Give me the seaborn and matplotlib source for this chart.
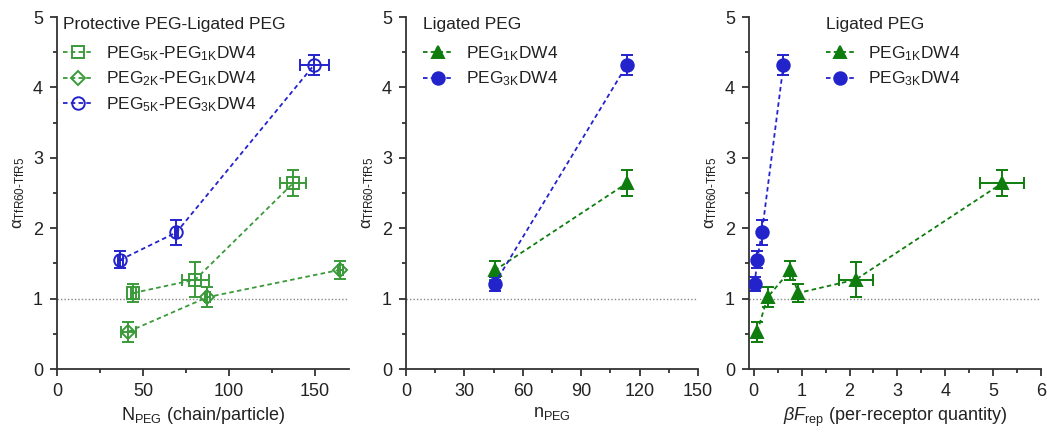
import numpy as np
import pandas as pd
import matplotlib
matplotlib.use("Agg")
import matplotlib.pyplot as plt
import seaborn as sns
from matplotlib.ticker import MultipleLocator

# ---------------- data ----------------
# Panel 1: N_PEG (chain/particle)
p5k1k_x = [44.5, 80.5, 137.5]
p5k1k_y = [1.08, 1.27, 2.64]
p5k1k_xerr = [1.5, 8.0, 7.5]
p5k1k_yerr = [0.13, 0.25, 0.18]

p2k1k_x = [41.5, 87.5, 165.0]
p2k1k_y = [0.53, 1.02, 1.41]
p2k1k_xerr = [4.5, 1.5, 1.5]
p2k1k_yerr = [0.14, 0.14, 0.13]

p5k3k_x = [36.8, 69.5, 149.7]
p5k3k_y = [1.55, 1.94, 4.32]
p5k3k_xerr = [1.5, 1.0, 8.5]
p5k3k_yerr = [0.12, 0.18, 0.14]

# Panel 2: n_PEG
n1k_x = [45.5, 113.5]
n1k_y = [1.40, 2.64]
n1k_yerr = [0.13, 0.18]
n3k_x = [45.5, 113.5]
n3k_y = [1.21, 4.32]
n3k_yerr = [0.10, 0.14]

# Panel 3: beta F_rep
f1k_x = [0.07, 0.29, 0.76, 0.93, 2.13, 5.19]
f1k_y = [0.53, 1.02, 1.40, 1.08, 1.27, 2.64]
f1k_xerr = [0.0, 0.0, 0.0, 0.0, 0.36, 0.46]
f1k_yerr = [0.14, 0.14, 0.13, 0.13, 0.25, 0.18]
f3k_x = [0.02, 0.07, 0.17, 0.62]
f3k_y = [1.21, 1.55, 1.94, 4.32]
f3k_yerr = [0.10, 0.12, 0.18, 0.14]

GREEN_L = "#3a9a3a"
GREEN_D = "#0e7d0e"
BLUE = "#2323cc"
AXC = "#333333"

sns.set_theme(style="ticks")
plt.rcParams['font.family'] = ['Liberation Sans', 'DejaVu Sans']
plt.rcParams['mathtext.fontset'] = 'custom'
plt.rcParams['mathtext.rm'] = 'Liberation Sans'
plt.rcParams['mathtext.it'] = 'Liberation Sans:italic'
plt.rcParams['mathtext.bf'] = 'Liberation Sans:bold'

fig = plt.figure(figsize=(10.47, 4.32), dpi=100)
W, H = 1047, 432
def add_ax(left, right, top=17, bottom=369):
    return fig.add_axes([left / W, (H - bottom) / H, (right - left) / W, (bottom - top) / H])

ax1 = add_ax(57, 349)
ax2 = add_ax(406, 698)
ax3 = add_ax(749, 1041)

def series(ax, x, y, xerr, yerr, color, marker, filled, label, ms):
    df = pd.DataFrame({"x": x, "y": y})
    sns.lineplot(data=df, x="x", y="y", ax=ax, sort=False, color=color,
                 linestyle=(0, (2.5, 1.8)), linewidth=1.3, marker=marker,
                 markersize=ms, markerfacecolor=(color if filled else "none"),
                 markeredgecolor=color, markeredgewidth=1.4, label=label, zorder=3)
    ax.errorbar(x, y, xerr=xerr, yerr=yerr, fmt="none", ecolor=color,
                elinewidth=1.4, capsize=4.5, capthick=1.4, zorder=2)

def lab(a, b):
    return f"PEG$_\\mathregular{{{a}}}$-PEG$_\\mathregular{{{b}}}$DW4"

series(ax1, p5k1k_x, p5k1k_y, p5k1k_xerr, p5k1k_yerr, GREEN_L, "s", False, lab("5K", "1K"), 9)
series(ax1, p2k1k_x, p2k1k_y, p2k1k_xerr, p2k1k_yerr, GREEN_L, "D", False, lab("2K", "1K"), 7)
series(ax1, p5k3k_x, p5k3k_y, p5k3k_xerr, p5k3k_yerr, BLUE, "o", False, lab("5K", "3K"), 9)

series(ax2, n1k_x, n1k_y, None, n1k_yerr, GREEN_D, "^", True, "PEG$_\\mathregular{1K}$DW4", 9)
series(ax2, n3k_x, n3k_y, None, n3k_yerr, BLUE, "o", True, "PEG$_\\mathregular{3K}$DW4", 9)

series(ax3, f1k_x, f1k_y, f1k_xerr, f1k_yerr, GREEN_D, "^", True, "PEG$_\\mathregular{1K}$DW4", 9)
series(ax3, f3k_x, f3k_y, None, f3k_yerr, BLUE, "o", True, "PEG$_\\mathregular{3K}$DW4", 9)

ylab = "$\\mathregular{\\alpha}_\\mathregular{TfR60\\text{-}TfR5}$"

cfg = [
    (ax1, (0, 170), 50, 25, "N$_\\mathregular{PEG}$ (chain/particle)", "Protective PEG-Ligated PEG", (-0.014, 1.03)),
    (ax2, (0, 150), 30, 15, "n$_\\mathregular{PEG}$", "Ligated PEG", (0.023, 1.03)),
    (ax3, (-0.1, 6), 1, 0.5, "$\\beta F_\\mathregular{rep}$ (per-receptor quantity)", "Ligated PEG", (0.227, 1.03)),
]
for ax, xl, maj, mnr, xlabel, title, anchor in cfg:
    ax.axhline(1, color="#888888", linestyle=(0, (1, 1.5)), linewidth=1.0, zorder=1)
    ax.set_xlim(*xl)
    ax.set_ylim(0, 5)
    ax.xaxis.set_major_locator(MultipleLocator(maj))
    ax.xaxis.set_minor_locator(MultipleLocator(mnr))
    ax.yaxis.set_major_locator(MultipleLocator(1))
    ax.yaxis.set_minor_locator(MultipleLocator(0.5))
    ax.tick_params(which="major", direction="out", length=5, width=1.3, color=AXC,
                   labelsize=13, labelcolor="#222222", pad=5)
    ax.tick_params(which="minor", direction="out", length=3, width=1.3, color=AXC)
    for s in ("top", "right"):
        ax.spines[s].set_visible(False)
    for s in ("left", "bottom"):
        ax.spines[s].set_linewidth(1.3)
        ax.spines[s].set_color(AXC)
    ax.set_xlabel(xlabel, fontsize=13, color="#222222", labelpad=4)
    ax.set_ylabel(ylab, fontsize=12, color="#222222", labelpad=4)
    ax.patch.set_alpha(0)
    leg = ax.legend(title=title, loc="upper left", bbox_to_anchor=anchor, frameon=False,
                    fontsize=12.5, title_fontsize=12.5, handlelength=1.7, handletextpad=0.75,
                    labelspacing=0.38, borderaxespad=0.2)
    leg._legend_box.align = "left"
    leg._legend_box.sep = 9
    for t in leg.get_texts():
        t.set_color("#222222")
    leg.get_title().set_color("#222222")

fig.savefig("out.png", dpi=100)
